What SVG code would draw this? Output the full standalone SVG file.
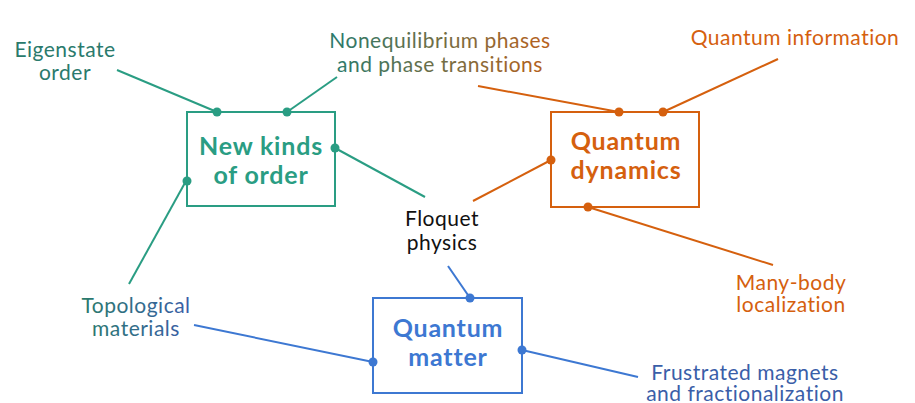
<svg xmlns="http://www.w3.org/2000/svg" width="915" height="403" viewBox="0 0 915 403">
<style>
text{font-family:Lato,"Open Sans","Liberation Sans",sans-serif;text-anchor:middle}
.lbl{font-size:21px;letter-spacing:0.5px}
.box{font-size:25px;font-weight:bold;letter-spacing:0.8px}
.g{stroke:#2a9d83}
.o{stroke:#d5600e}
.b{stroke:#3d78d2}
.ln{stroke-width:2;fill:none}
.bx{fill:#fff;stroke-width:2}
.dg{fill:#2a9d83}
.do{fill:#d5600e}
.db{fill:#3d78d2}
</style>
<defs>
<linearGradient id="gNoneq" gradientUnits="userSpaceOnUse" x1="330" y1="0" x2="550" y2="0">
<stop offset="0" stop-color="#2a7a6c"/>
<stop offset="1" stop-color="#b8601e"/>
</linearGradient>
<linearGradient id="gTopo" gradientUnits="userSpaceOnUse" x1="83" y1="0" x2="190" y2="0">
<stop offset="0" stop-color="#2a7a6c"/>
<stop offset="1" stop-color="#3a5ea8"/>
</linearGradient>
</defs>
<rect width="915" height="403" fill="#fff"/>
<g id="connectors">
<line class="ln g" x1="117" y1="70" x2="217" y2="112"/>
<line class="ln g" x1="337" y1="77" x2="287" y2="112"/>
<line class="ln g" x1="335" y1="148" x2="425" y2="197"/>
<line class="ln g" x1="186" y1="181" x2="129" y2="284"/>
<line class="ln o" x1="478" y1="86" x2="619" y2="112"/>
<line class="ln o" x1="778" y1="59" x2="663" y2="112"/>
<line class="ln o" x1="473" y1="201" x2="551" y2="160"/>
<line class="ln o" x1="588" y1="207" x2="773" y2="265"/>
<line class="ln b" x1="448" y1="266" x2="470" y2="298"/>
<line class="ln b" x1="194" y1="325" x2="373" y2="362"/>
<line class="ln b" x1="522" y1="350" x2="638" y2="377"/>
</g>
<g id="new-kinds-of-order">
<rect class="bx g" x="187" y="112" width="148" height="94"/>
<text class="box" x="261" y="155" fill="#2a9d83">New kinds</text>
<text class="box" x="261" y="184" fill="#2a9d83">of order</text>
<circle class="dg" cx="217" cy="112" r="4.5"/>
<circle class="dg" cx="287" cy="112" r="4.5"/>
<circle class="dg" cx="335" cy="148" r="4.5"/>
<circle class="dg" cx="187" cy="181" r="4.5"/>
</g>
<g id="quantum-dynamics">
<rect class="bx o" x="551" y="112" width="148" height="95"/>
<text class="box" x="626" y="150" fill="#d5600e">Quantum</text>
<text class="box" x="626" y="179" fill="#d5600e">dynamics</text>
<circle class="do" cx="619" cy="112" r="4.5"/>
<circle class="do" cx="663" cy="112" r="4.5"/>
<circle class="do" cx="551" cy="160" r="4.5"/>
<circle class="do" cx="588" cy="207" r="4.5"/>
</g>
<g id="quantum-matter">
<rect class="bx b" x="373" y="298" width="149" height="95"/>
<text class="box" x="448" y="337" fill="#3d78d2">Quantum</text>
<text class="box" x="448" y="366" fill="#3d78d2">matter</text>
<circle class="db" cx="470" cy="298" r="4.5"/>
<circle class="db" cx="373" cy="362" r="4.5"/>
<circle class="db" cx="522" cy="350" r="4.5"/>
</g>
<g id="floquet-physics">
<text class="lbl" x="442" y="226" fill="#111">Floquet</text>
<text class="lbl" x="442" y="250" fill="#111">physics</text>
</g>
<g id="eigenstate-order">
<text class="lbl" x="65" y="57" fill="#2a7a6c">Eigenstate</text>
<text class="lbl" x="65" y="80" fill="#2a7a6c">order</text>
</g>
<g id="nonequilibrium">
<text class="lbl" x="440" y="48" fill="url(#gNoneq)">Nonequilibrium phases</text>
<text class="lbl" x="440" y="72" fill="url(#gNoneq)">and phase transitions</text>
</g>
<g id="quantum-information">
<text class="lbl" x="795" y="45" fill="#d5600e">Quantum information</text>
</g>
<g id="many-body-localization">
<text class="lbl" x="791" y="290" fill="#d5600e">Many-body</text>
<text class="lbl" x="791" y="312" fill="#d5600e">localization</text>
</g>
<g id="topological-materials">
<text class="lbl" x="136" y="313" fill="url(#gTopo)">Topological</text>
<text class="lbl" x="136" y="336" fill="url(#gTopo)">materials</text>
</g>
<g id="frustrated-magnets">
<text class="lbl" x="745" y="380" fill="#3a5ea8">Frustrated magnets</text>
<text class="lbl" x="745" y="401" fill="#3a5ea8">and fractionalization</text>
</g>
</svg>
